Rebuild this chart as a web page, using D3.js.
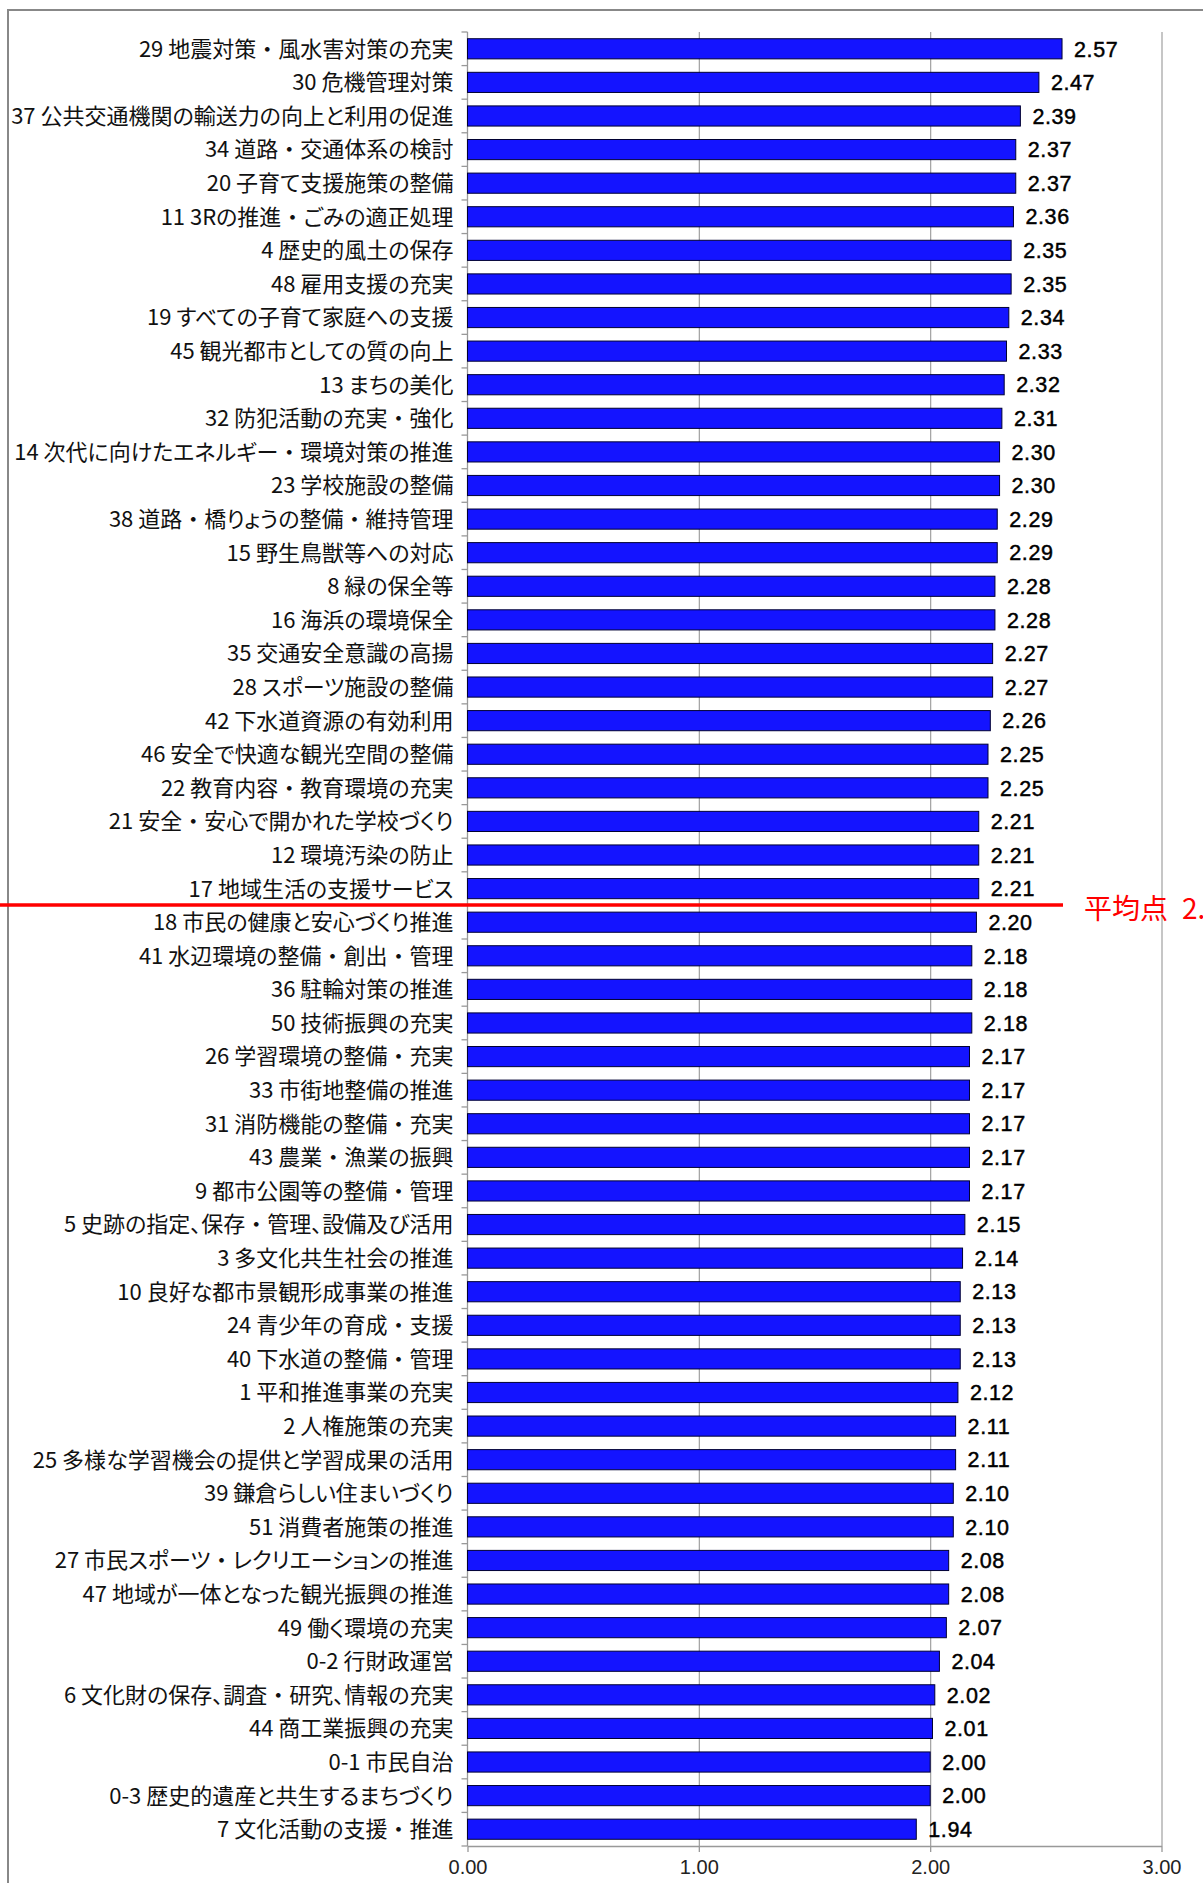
<!DOCTYPE html>
<html>
<head>
<meta charset="utf-8">
<script src="https://cdn.jsdelivr.net/npm/d3@7"></script>
<style>
  body { margin: 0; background: #fff; overflow: hidden; }
  .cat { font-family: "Noto Sans CJK JP", sans-serif; font-size: 22px; fill: #111; font-feature-settings: "palt"; }
  .cat .dot { font-feature-settings: normal; }
  .val { font-family: "Liberation Sans", Arial, sans-serif; font-size: 21.5px; fill: #000; stroke: #000; stroke-width: 0.45px; letter-spacing: 0.6px; }
  .xaxis text { font-family: "Liberation Sans", Arial, sans-serif; font-size: 20px; fill: #222; }
</style>
</head>
<body>
<div id="chart"></div>
<script>
// items, sorted from highest score to lowest
const categories = [
  "29 地震対策・風水害対策の充実", "30 危機管理対策", "37 公共交通機関の輸送力の向上と利用の促進",
  "34 道路・交通体系の検討", "20 子育て支援施策の整備", "11 3Rの推進・ごみの適正処理",
  "4 歴史的風土の保存", "48 雇用支援の充実", "19 すべての子育て家庭への支援",
  "45 観光都市としての質の向上", "13 まちの美化", "32 防犯活動の充実・強化",
  "14 次代に向けたエネルギー・環境対策の推進", "23 学校施設の整備", "38 道路・橋りょうの整備・維持管理",
  "15 野生鳥獣等への対応", "8 緑の保全等", "16 海浜の環境保全",
  "35 交通安全意識の高揚", "28 スポーツ施設の整備", "42 下水道資源の有効利用",
  "46 安全で快適な観光空間の整備", "22 教育内容・教育環境の充実", "21 安全・安心で開かれた学校づくり",
  "12 環境汚染の防止", "17 地域生活の支援サービス", "18 市民の健康と安心づくり推進",
  "41 水辺環境の整備・創出・管理", "36 駐輪対策の推進", "50 技術振興の充実",
  "26 学習環境の整備・充実", "33 市街地整備の推進", "31 消防機能の整備・充実",
  "43 農業・漁業の振興", "9 都市公園等の整備・管理", "5 史跡の指定、保存・管理、設備及び活用",
  "3 多文化共生社会の推進", "10 良好な都市景観形成事業の推進", "24 青少年の育成・支援",
  "40 下水道の整備・管理", "1 平和推進事業の充実", "2 人権施策の充実",
  "25 多様な学習機会の提供と学習成果の活用", "39 鎌倉らしい住まいづくり", "51 消費者施策の推進",
  "27 市民スポーツ・レクリエーションの推進", "47 地域が一体となった観光振興の推進", "49 働く環境の充実",
  "0-2 行財政運営", "6 文化財の保存、調査・研究、情報の充実", "44 商工業振興の充実",
  "0-1 市民自治", "0-3 歴史的遺産と共生するまちづくり", "7 文化活動の支援・推進"
];

const scores = [
  2.57, 2.47, 2.39, 2.37, 2.37, 2.36, 2.35, 2.35, 2.34, 2.33, 2.32, 2.31,
  2.30, 2.30, 2.29, 2.29, 2.28, 2.28, 2.27, 2.27, 2.26, 2.25, 2.25, 2.21,
  2.21, 2.21, 2.20, 2.18, 2.18, 2.18, 2.17, 2.17, 2.17, 2.17, 2.17, 2.15,
  2.14, 2.13, 2.13, 2.13, 2.12, 2.11, 2.11, 2.10, 2.10, 2.08, 2.08, 2.07,
  2.04, 2.02, 2.01, 2.00, 2.00, 1.94
];

const xTicks = [0, 1, 2, 3];

// average line sits just below this item
const avgAfter = "17 地域生活の支援サービス";
const avgLabel = "平均点 2.21";

const W = 1203, H = 1883;
const svg = d3.select("#chart").append("svg")
    .attr("width", W)
    .attr("height", H);

// outer frame (only top and left show in the picture)
svg.append("path")
    .attr("d", `M8,${H} V10 H${W}`)
    .attr("fill", "none")
    .attr("stroke", "#888")
    .attr("stroke-width", 2);

const x = d3.scaleLinear()
    .domain([0, 3])
    .range([467.5, 1161.5]);

const y = d3.scaleBand()
    .domain(categories)
    .range([32, 1846])
    .paddingInner(0.4)
    .paddingOuter(0.2);

const data = categories.map((c, i) => ({ name: c, value: scores[i] }));

// vertical gridlines
svg.append("g")
    .selectAll("line")
    .data(xTicks.slice(1))
    .join("line")
    .attr("x1", d => x(d) + 0.5)
    .attr("x2", d => x(d) + 0.5)
    .attr("y1", y.range()[0])
    .attr("y2", y.range()[1])
    .attr("stroke", "#a0a0a0")
    .attr("stroke-width", 1.2);

// x axis
const xAxis = d3.axisBottom(x)
    .tickValues(xTicks)
    .tickFormat(d3.format(".2f"))
    .tickSize(6)
    .tickPadding(8)
    .tickSizeOuter(0);

svg.append("g")
    .attr("class", "xaxis")
    .attr("transform", `translate(0,${y.range()[1]})`)
    .call(xAxis)
    .call(g => g.selectAll("line, path").attr("stroke", "#999").attr("stroke-width", 1.3));

// y axis line + ticks at band boundaries
const yAxis = svg.append("g");
yAxis.append("line")
    .attr("x1", x(0)).attr("x2", x(0))
    .attr("y1", y.range()[0]).attr("y2", y.range()[1])
    .attr("stroke", "#999")
    .attr("stroke-width", 1.3);

yAxis.selectAll(".tk")
    .data(d3.range(categories.length + 1))
    .join("line")
    .attr("class", "tk")
    .attr("x1", x(0) - 6)
    .attr("x2", x(0))
    .attr("y1", i => y.range()[0] + i * y.step())
    .attr("y2", i => y.range()[0] + i * y.step())
    .attr("stroke", "#999")
    .attr("stroke-width", 1.3);

// bars
svg.append("g")
    .selectAll("rect")
    .data(data)
    .join("rect")
    .attr("x", x(0))
    .attr("y", d => y(d.name))
    .attr("width", d => x(d.value) - x(0))
    .attr("height", y.bandwidth())
    .attr("fill", "#1414ff")
    .attr("stroke", "#000033")
    .attr("stroke-width", 1);

// category labels; the middle dot keeps its full width
const catText = svg.append("g")
    .selectAll("text")
    .data(data)
    .join("text")
    .attr("class", "cat")
    .attr("x", x(0) - 14)
    .attr("y", d => y(d.name) + y.bandwidth() / 2)
    .attr("dy", "0.36em")
    .attr("text-anchor", "end");

catText.selectAll("tspan")
    .data(d => d.name.split(/(・)/).filter(s => s.length))
    .join("tspan")
    .attr("class", s => s === "・" ? "dot" : null)
    .text(s => s);

// value labels
svg.append("g")
    .selectAll("text")
    .data(data)
    .join("text")
    .attr("class", "val")
    .attr("x", d => x(d.value) + 12)
    .attr("y", d => y(d.name) + y.bandwidth() / 2)
    .attr("dy", "0.36em")
    .text(d => d3.format(".2f")(d.value));

// average line
const avgY = y(avgAfter) + y.bandwidth() + y.step() * y.paddingOuter();
svg.append("line")
    .attr("x1", 0)
    .attr("x2", 1063)
    .attr("y1", avgY - 0.5)
    .attr("y2", avgY - 0.5)
    .attr("stroke", "#ff0000")
    .attr("stroke-width", 3.5);

// label runs off the right edge, as in the original
svg.append("text")
    .attr("x", 1084)
    .attr("y", avgY + 4)
    .attr("dy", "0.36em")
    .attr("fill", "#ff0000")
    .style("font-family", "'Noto Sans CJK JP', sans-serif")
    .style("font-size", "28px")
    .text(avgLabel.replace(" ", "\u2002"));
</script>
</body>
</html>
